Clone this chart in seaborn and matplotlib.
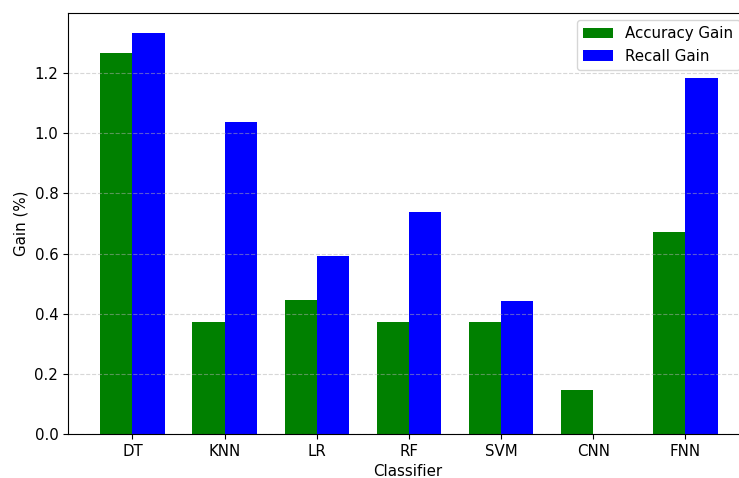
import pandas as pd
import matplotlib
matplotlib.use("Agg")
import matplotlib.pyplot as plt
import seaborn as sns

# Werte
classifiers = ['DT', 'KNN', 'LR', 'RF', 'SVM', 'CNN', 'FNN']
accuracy_gain = [1.267, 0.373, 0.446, 0.373, 0.373, 0.147, 0.672]
recall_gain = [1.333, 1.037, 0.592, 0.739, 0.442, 0.0, 1.184]

df = pd.DataFrame({
    'Classifier': classifiers * 2,
    'Gain': accuracy_gain + recall_gain,
    'Metric': ['Accuracy Gain'] * len(classifiers) + ['Recall Gain'] * len(classifiers),
})

plt.rcParams['font.size'] = 10.8

fig = plt.figure(figsize=(7.39, 4.78), dpi=100)
# Achse ragt etwas über den rechten Bildrand hinaus (wie im Original abgeschnitten)
ax = fig.add_axes([68 / 739, 1 - 434 / 478, 679 / 739, 421 / 478])

sns.barplot(data=df, x='Classifier', y='Gain', hue='Metric',
            palette={'Accuracy Gain': 'green', 'Recall Gain': 'blue'},
            width=0.7, saturation=1, errorbar=None, ax=ax)

ax.set_xlim(-0.7, 6.67)
ax.set_ylim(0, 1.4)
ax.set_yticks([0.0, 0.2, 0.4, 0.6, 0.8, 1.0, 1.2])
ax.set_axisbelow('line')
ax.grid(axis='y', linestyle='--', alpha=0.5)
ax.set_xlabel('Classifier')
ax.set_ylabel('Gain (%)')
ax.legend(loc='upper right', title=None)

fig.savefig('out.png', dpi=100)
